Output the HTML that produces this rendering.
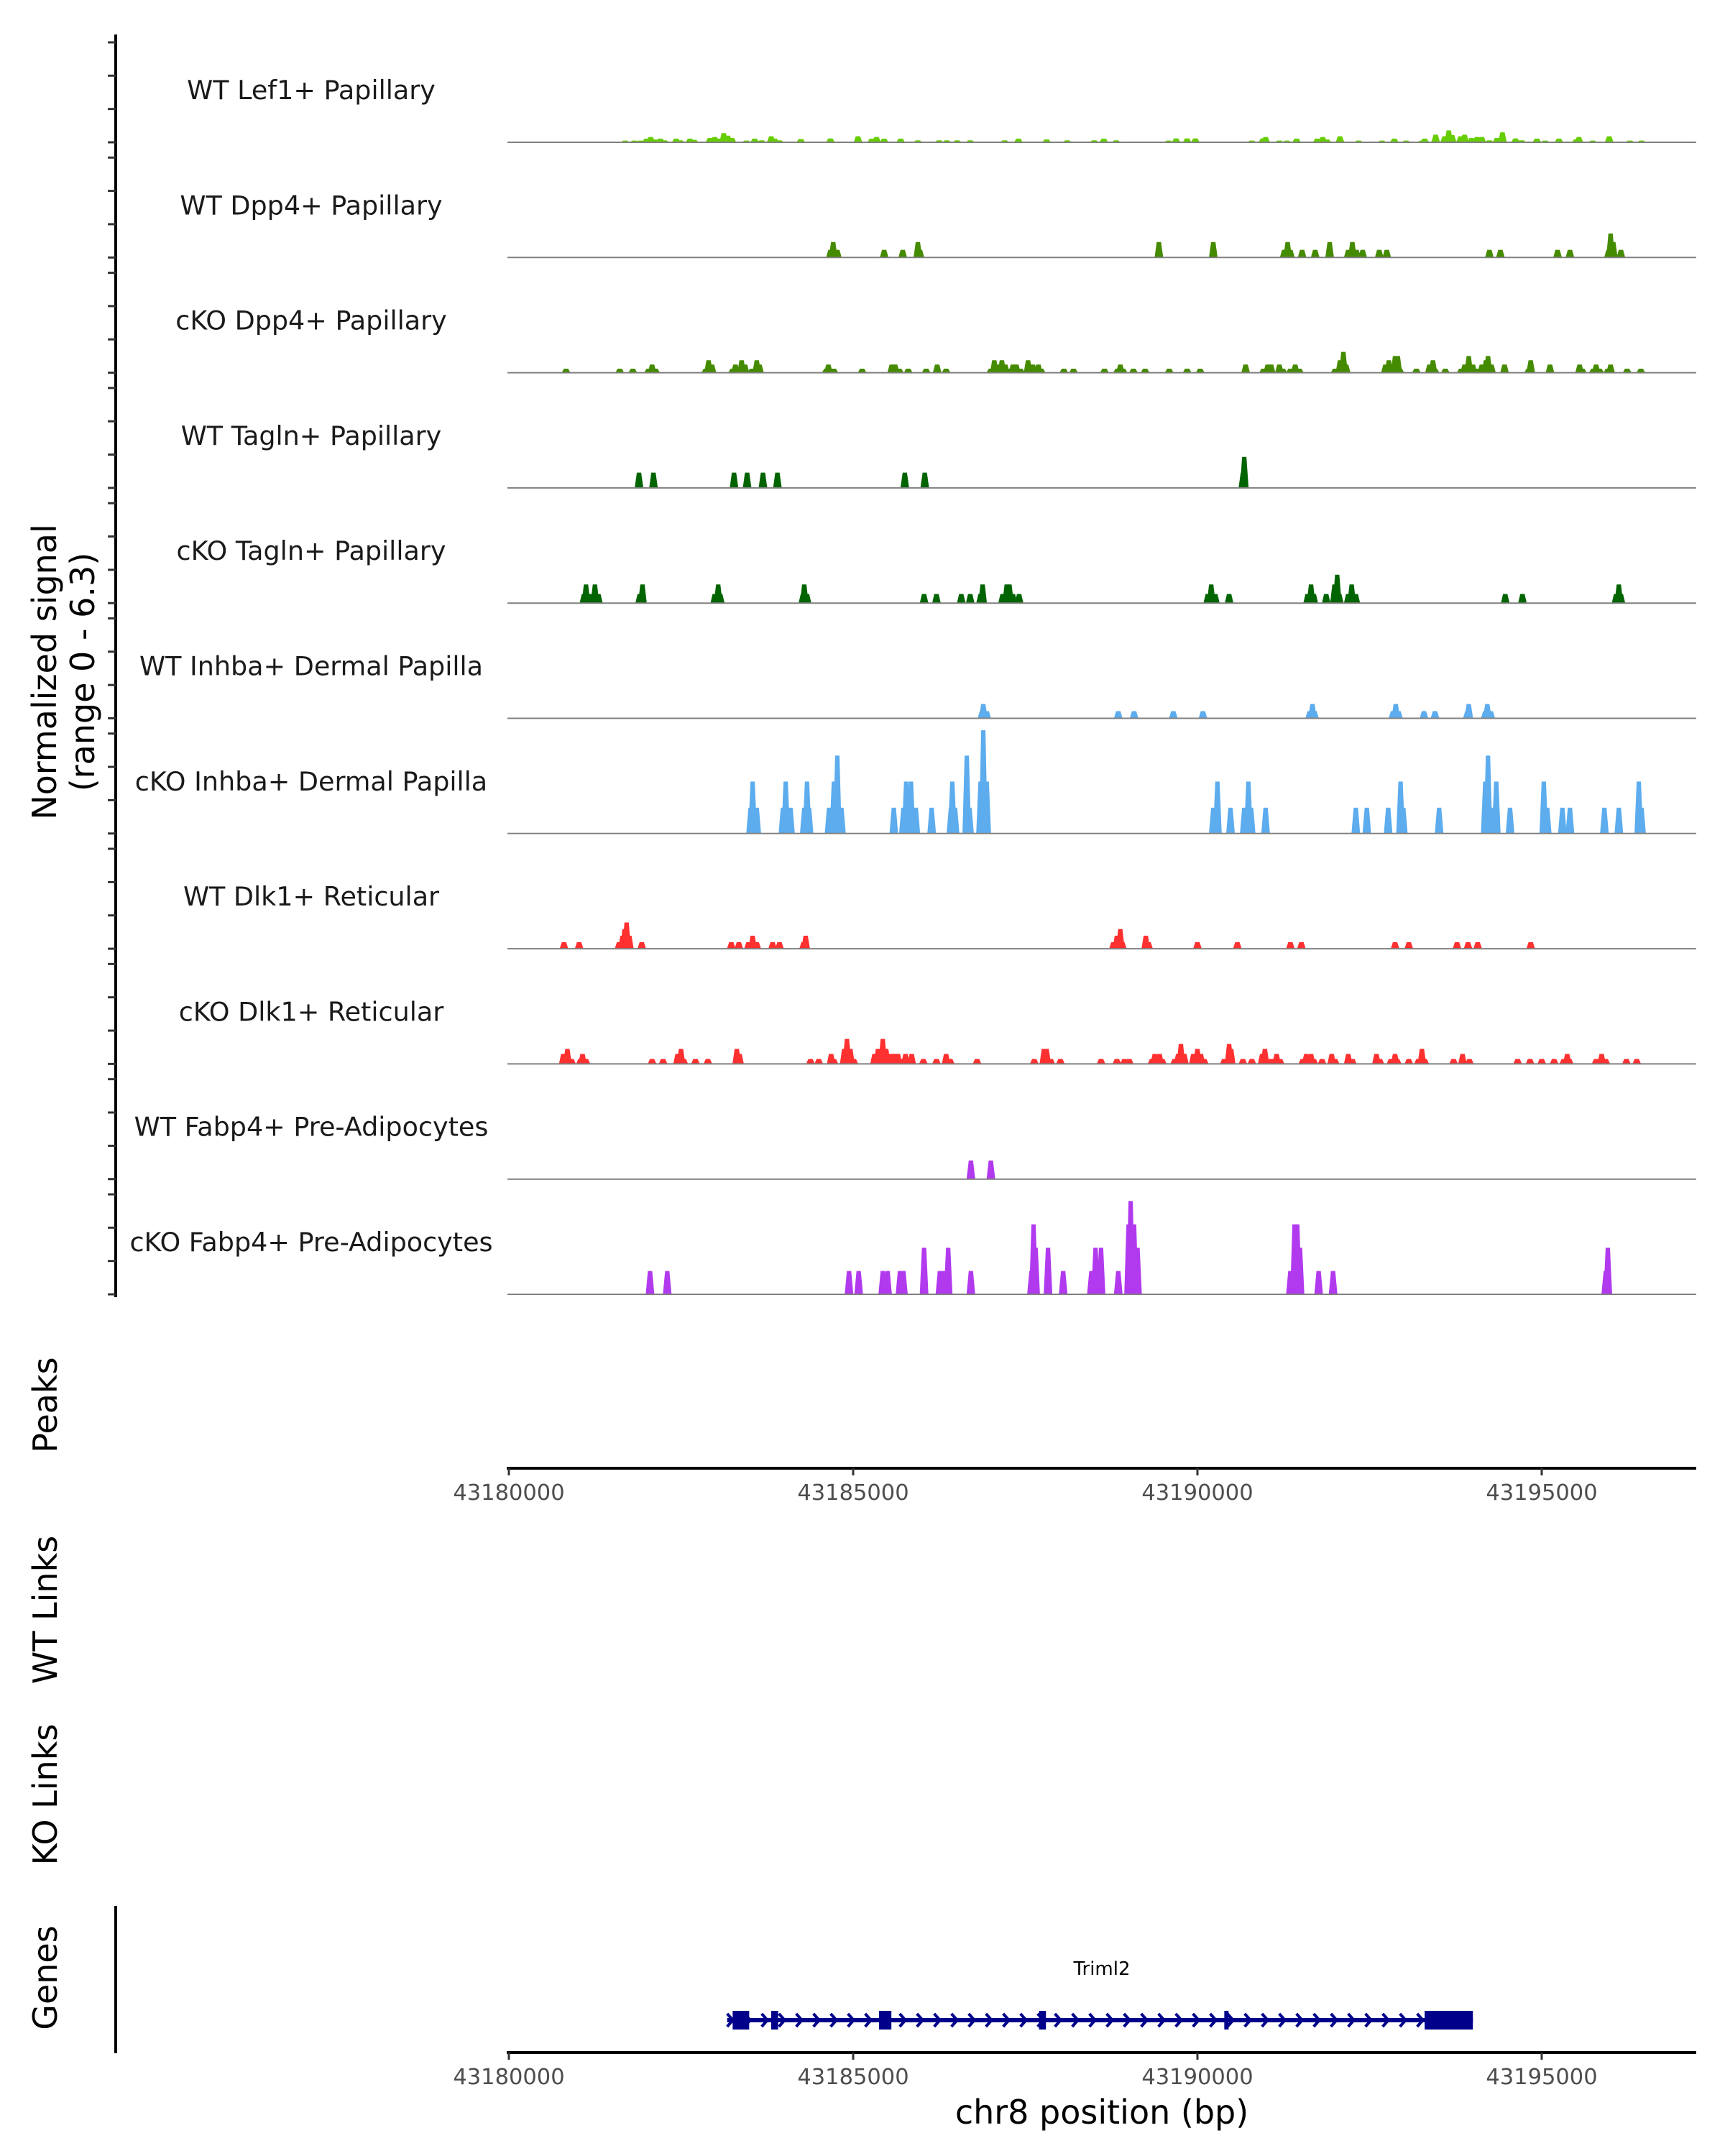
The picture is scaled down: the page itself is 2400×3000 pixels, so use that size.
<!DOCTYPE html>
<html><head><meta charset="utf-8"><title>Coverage plot chr8 Triml2</title>
<style>
html,body{margin:0;padding:0;background:#fff;}
svg{display:block;}
text{font-family:"DejaVu Sans","Liberation Sans",sans-serif;}
</style></head>
<body>
<svg id="chart" width="2400" height="3000" viewBox="0 0 2400 3000" xmlns="http://www.w3.org/2000/svg">
  <rect x="0" y="0" width="2400" height="3000" fill="#fff"/>
  <g id="tracks"></g>
  <g id="leftaxis"></g>
  <text transform="translate(78,935) rotate(-90)" text-anchor="middle" font-size="46" fill="#000">Normalized signal</text>
  <text transform="translate(131,935) rotate(-90)" text-anchor="middle" font-size="46" fill="#000">(range 0 - 6.3)</text>
  <text transform="translate(79,1955) rotate(-90)" text-anchor="middle" font-size="46" fill="#000">Peaks</text>
  <text transform="translate(79,2240) rotate(-90)" text-anchor="middle" font-size="46" fill="#000">WT Links</text>
  <text transform="translate(79,2497) rotate(-90)" text-anchor="middle" font-size="46" fill="#000">KO Links</text>
  <text transform="translate(79,2752) rotate(-90)" text-anchor="middle" font-size="46" fill="#000">Genes</text>
  <line x1="161" y1="2652" x2="161" y2="2857" stroke="#000" stroke-width="4"/>
  <g id="xaxis1"></g>
  <g id="xaxis2"></g>
  <g id="gene"></g>
  <text x="1533" y="2955" text-anchor="middle" font-size="46" fill="#000">chr8 position (bp)</text>
</svg>
<script>
// ---------- data ----------
const xTicks = [43180000, 43185000, 43190000, 43195000];
const trackNames = ["WT Lef1+ Papillary","WT Dpp4+ Papillary","cKO Dpp4+ Papillary","WT Tagln+ Papillary","cKO Tagln+ Papillary","WT Inhba+ Dermal Papilla","cKO Inhba+ Dermal Papilla","WT Dlk1+ Reticular","cKO Dlk1+ Reticular","WT Fabp4+ Pre-Adipocytes","cKO Fabp4+ Pre-Adipocytes"];
const trackColors = ["#66CD00","#458B00","#458B00","#006400","#006400","#5CACEE","#5CACEE","#FF3030","#FF3030","#B23AEE","#B23AEE"];
const yTickValues = [0,2,4,6];

const lef1WtPos = [43181.69,43181.82,43181.91,43182.00,43182.06,43182.12,43182.20,43182.26,43182.43,43182.49,43182.63,43182.69,43182.92,43182.99,43183.06,43183.12,43183.18,43183.24,43183.45,43183.57,43183.67,43183.81,43183.86,43183.93,43184.24,43184.67,43185.07,43185.27,43185.34,43185.45,43185.69,43185.94,43186.25,43186.36,43186.51,43186.70,43187.20,43187.40,43187.81,43188.11,43188.50,43188.64,43188.82,43189.58,43189.69,43189.85,43189.97,43190.79,43190.95,43190.99,43191.19,43191.30,43191.44,43191.74,43191.82,43191.88,43192.07,43192.34,43192.68,43192.86,43193.03,43193.26,43193.30,43193.46,43193.59,43193.65,43193.70,43193.82,43193.88,43193.98,43194.06,43194.13,43194.24,43194.35,43194.43,43194.62,43194.71,43194.93,43195.05,43195.25,43195.50,43195.54,43195.74,43195.98,43196.28,43196.45];
const lef1WtVal = [0.1,0.1,0.1,0.22,0.32,0.17,0.22,0.12,0.22,0.12,0.22,0.15,0.26,0.32,0.22,0.55,0.4,0.26,0.1,0.22,0.12,0.36,0.22,0.12,0.2,0.23,0.36,0.22,0.32,0.22,0.22,0.12,0.12,0.12,0.12,0.12,0.12,0.22,0.17,0.12,0.12,0.22,0.12,0.1,0.23,0.23,0.23,0.1,0.23,0.32,0.1,0.1,0.22,0.22,0.32,0.17,0.36,0.1,0.1,0.22,0.1,0.1,0.22,0.46,0.36,0.72,0.43,0.36,0.46,0.26,0.32,0.32,0.12,0.26,0.6,0.23,0.12,0.22,0.1,0.22,0.17,0.32,0.1,0.36,0.1,0.1];

const dpp4WtPos = [43184.67,43184.71,43184.77,43185.45,43185.72,43185.94,43185.97,43189.44,43190.23,43191.26,43191.31,43191.35,43191.52,43191.71,43191.92,43192.19,43192.25,43192.31,43192.40,43192.64,43192.75,43194.24,43194.40,43195.23,43195.41,43195.97,43196.00,43196.04,43196.15];
const dpp4WtVal = [0.46,0.93,0.46,0.46,0.46,0.93,0.46,0.93,0.93,0.46,0.93,0.46,0.46,0.46,0.93,0.46,0.93,0.46,0.46,0.46,0.46,0.46,0.46,0.46,0.46,0.46,1.44,0.93,0.46];

const dpp4KoPos = [43180.83,43181.61,43181.80,43182.03,43182.08,43182.13,43182.86,43182.90,43182.95,43183.25,43183.29,43183.34,43183.38,43183.43,43183.53,43183.60,43183.64,43184.61,43184.64,43184.72,43185.13,43185.56,43185.61,43185.67,43185.80,43186.06,43186.22,43186.35,43187.00,43187.05,43187.11,43187.16,43187.21,43187.26,43187.32,43187.37,43187.43,43187.54,43187.61,43187.69,43187.73,43188.06,43188.20,43188.65,43188.84,43188.88,43188.92,43189.07,43189.24,43189.59,43189.85,43190.04,43190.70,43190.96,43191.02,43191.07,43191.19,43191.24,43191.35,43191.42,43191.48,43192.00,43192.07,43192.12,43192.16,43192.73,43192.78,43192.83,43192.87,43192.91,43192.94,43193.18,43193.37,43193.42,43193.45,43193.60,43193.83,43193.88,43193.94,43194.00,43194.07,43194.13,43194.19,43194.22,43194.27,43194.46,43194.81,43194.84,43195.12,43195.55,43195.59,43195.75,43195.79,43195.84,43195.96,43196.00,43196.24,43196.44];
const dpp4KoVal = [0.24,0.24,0.24,0.24,0.49,0.24,0.24,0.75,0.49,0.24,0.49,0.24,0.75,0.49,0.24,0.75,0.49,0.24,0.49,0.24,0.24,0.49,0.49,0.24,0.24,0.24,0.49,0.24,0.24,0.75,0.49,0.75,0.49,0.24,0.49,0.49,0.24,0.75,0.49,0.49,0.24,0.24,0.24,0.24,0.24,0.49,0.24,0.24,0.24,0.24,0.24,0.24,0.49,0.24,0.49,0.49,0.49,0.24,0.24,0.49,0.24,0.24,0.75,1.25,0.49,0.49,0.75,0.24,1.0,1.0,0.24,0.24,0.49,0.75,0.24,0.24,0.24,0.49,1.0,0.49,0.24,0.49,0.75,1.0,0.49,0.49,0.24,0.75,0.49,0.49,0.24,0.24,0.49,0.24,0.24,0.49,0.24,0.24];

const taglnWtPos = [43181.89,43182.10,43183.27,43183.46,43183.69,43183.90,43185.75,43186.04,43190.66,43190.68];
const taglnWtVal = [0.92,0.92,0.92,0.92,0.92,0.92,0.92,0.92,0.92,1.86];

const taglnKoPos = [43181.09,43181.12,43181.19,43181.25,43181.30,43181.90,43181.94,43182.99,43183.04,43183.07,43184.27,43184.29,43184.33,43186.03,43186.21,43186.57,43186.70,43186.85,43186.88,43187.17,43187.23,43187.27,43187.32,43187.41,43190.15,43190.20,43190.26,43190.46,43191.60,43191.65,43191.69,43191.87,43191.99,43192.03,43192.06,43192.19,43192.24,43192.30,43194.47,43194.72,43196.08,43196.12,43196.15];
const taglnKoVal = [0.55,1.12,0.55,1.12,0.55,0.55,1.12,0.55,1.12,0.55,0.55,1.12,0.55,0.55,0.55,0.55,0.55,0.55,1.12,0.55,1.12,1.12,0.55,0.55,0.55,1.12,0.55,0.55,0.55,1.12,0.55,0.55,1.12,1.7,0.55,0.55,1.12,0.55,0.55,0.55,0.55,1.12,0.55];

const inhbaWtPos = [43186.87,43186.89,43186.94,43188.85,43189.08,43189.65,43190.08,43191.63,43191.67,43191.70,43192.84,43192.88,43192.92,43193.29,43193.45,43193.92,43193.94,43194.18,43194.21,43194.26];
const inhbaWtVal = [0.43,0.86,0.43,0.43,0.43,0.43,0.43,0.43,0.86,0.43,0.43,0.86,0.43,0.43,0.43,0.43,0.86,0.43,0.86,0.43];

const inhbaKoPos = [43183.51,43183.54,43183.60,43183.98,43184.02,43184.09,43184.29,43184.33,43184.36,43184.65,43184.72,43184.77,43184.83,43185.59,43185.73,43185.77,43185.84,43185.91,43186.14,43186.42,43186.44,43186.48,43186.65,43186.69,43186.85,43186.89,43186.94,43190.23,43190.29,43190.48,43190.68,43190.74,43190.78,43190.99,43192.30,43192.46,43192.77,43192.95,43192.99,43193.51,43194.18,43194.22,43194.27,43194.34,43194.54,43195.03,43195.08,43195.30,43195.41,43195.91,43196.12,43196.41,43196.45];
const inhbaKoVal = [1.55,3.12,1.55,1.55,3.12,1.55,1.55,3.12,1.55,1.55,3.12,4.68,1.55,1.55,1.55,3.12,3.12,1.55,1.55,1.55,3.12,1.55,4.68,1.55,3.12,6.2,3.12,1.55,3.12,1.55,1.55,3.12,1.55,1.55,1.55,1.55,1.55,3.12,1.55,1.55,3.12,4.68,1.55,3.12,1.55,3.12,1.55,1.55,1.55,1.55,1.55,3.12,1.55];

const dlk1WtPos = [43180.80,43181.02,43181.60,43181.65,43181.68,43181.71,43181.75,43181.93,43183.23,43183.34,43183.48,43183.54,43183.60,43183.83,43183.93,43184.28,43184.31,43188.78,43188.83,43188.88,43188.91,43189.25,43189.29,43190.00,43190.58,43191.35,43191.51,43192.87,43193.07,43193.77,43193.93,43194.07,43194.84];
const dlk1WtVal = [0.39,0.39,0.39,0.78,1.18,1.58,0.78,0.39,0.39,0.39,0.39,0.78,0.39,0.39,0.39,0.39,0.78,0.39,0.78,1.18,0.39,0.78,0.39,0.39,0.39,0.39,0.39,0.39,0.39,0.39,0.39,0.39,0.39];

const dlk1KoPos = [43180.79,43180.85,43180.91,43181.04,43181.07,43181.12,43182.08,43182.24,43182.45,43182.50,43182.54,43182.71,43182.89,43183.31,43183.35,43184.38,43184.50,43184.68,43184.72,43184.87,43184.91,43184.96,43185.01,43185.31,43185.36,43185.40,43185.43,43185.48,43185.54,43185.59,43185.65,43185.70,43185.76,43185.80,43185.85,43186.02,43186.21,43186.35,43186.41,43186.80,43187.63,43187.77,43187.81,43187.87,43188.01,43188.60,43188.83,43188.94,43189.01,43189.34,43189.38,43189.45,43189.49,43189.67,43189.72,43189.76,43189.81,43189.94,43190.00,43190.05,43190.10,43190.39,43190.46,43190.49,43190.66,43190.79,43190.94,43190.98,43191.03,43191.08,43191.15,43191.20,43191.53,43191.58,43191.65,43191.69,43191.81,43191.95,43192.00,43192.19,43192.25,43192.60,43192.65,43192.81,43192.87,43192.90,43193.07,43193.21,43193.26,43193.30,43193.72,43193.85,43193.95,43194.65,43194.83,43195.00,43195.18,43195.32,43195.37,43195.40,43195.79,43195.87,43195.93,43196.23,43196.38];
const dlk1KoVal = [0.6,0.9,0.3,0.3,0.6,0.3,0.3,0.3,0.6,0.9,0.3,0.3,0.3,0.9,0.6,0.3,0.3,0.6,0.3,0.9,1.5,0.9,0.3,0.6,0.9,0.3,1.5,0.9,0.6,0.6,0.6,0.3,0.6,0.3,0.6,0.3,0.3,0.6,0.3,0.3,0.3,0.9,0.9,0.3,0.3,0.3,0.3,0.3,0.3,0.3,0.6,0.6,0.3,0.3,0.6,1.2,0.6,0.6,0.9,0.6,0.3,0.3,1.2,0.9,0.3,0.3,0.6,0.9,0.3,0.3,0.6,0.3,0.3,0.6,0.6,0.3,0.3,0.6,0.3,0.6,0.3,0.6,0.3,0.3,0.6,0.3,0.3,0.3,0.9,0.3,0.3,0.6,0.3,0.3,0.3,0.3,0.3,0.3,0.6,0.3,0.3,0.6,0.3,0.3,0.3];

const fabp4WtPos = [43186.71,43187.00];
const fabp4WtVal = [1.12,1.12];

const fabp4KoPos = [43182.05,43182.30,43184.94,43185.08,43185.43,43185.50,43185.68,43185.73,43186.03,43186.26,43186.31,43186.38,43186.71,43187.59,43187.62,43187.65,43187.83,43188.05,43188.46,43188.52,43188.55,43188.60,43188.85,43189.00,43189.03,43189.08,43189.13,43191.35,43191.41,43191.45,43191.49,43191.76,43191.97,43195.93,43195.96];
const fabp4KoVal = [1.4,1.4,1.4,1.4,1.4,1.4,1.4,1.4,2.8,1.4,1.4,2.8,1.4,1.4,4.2,2.8,2.8,1.4,1.4,2.8,1.4,2.8,1.4,4.2,5.6,4.2,2.8,1.4,4.2,4.2,2.8,1.4,1.4,1.4,2.8];

const trackPos = [lef1WtPos,dpp4WtPos,dpp4KoPos,taglnWtPos,taglnKoPos,inhbaWtPos,inhbaKoPos,dlk1WtPos,dlk1KoPos,fabp4WtPos,fabp4KoPos];
const trackVal = [lef1WtVal,dpp4WtVal,dpp4KoVal,taglnWtVal,taglnKoVal,inhbaWtVal,inhbaKoVal,dlk1WtVal,dlk1KoVal,fabp4WtVal,fabp4KoVal];

const geneName = "Triml2";
const geneStart = 43183170, geneEnd = 43194000;
const exonStarts = [43183250,43183810,43185375,43187700,43190390,43193300];
const exonEnds   = [43183490,43183910,43185555,43187800,43190450,43194000];

// ---------- scales ----------
const NS = "http://www.w3.org/2000/svg";
const X0 = 708, PX_PER_BP = 479/5000, XMIN = 43180000, PLOT_R = 2360;
const xScale = bp => X0 + (bp - XMIN) * PX_PER_BP;
const TRACK_TOP0 = 198, TRACK_STEP = 160.3, TRACK_H = 146, YMAX = 6.3;
const baseY = i => TRACK_TOP0 + i * TRACK_STEP;
const yScale = (i, v) => baseY(i) - v / YMAX * TRACK_H;
function mk(tag, attrs, parent) { const e = document.createElementNS(NS, tag); for (const k in attrs) e.setAttribute(k, attrs[k]); parent.appendChild(e); return e; }

// ---------- tracks ----------
const tracksG = document.getElementById('tracks');
const axisG = document.getElementById('leftaxis');
const axLine = mk('line', {x1:161, y1:48, x2:161, y2:1805, stroke:'#000', 'stroke-width':4}, axisG);


trackNames.forEach((name, i) => {
  const g = mk('g', {}, tracksG);
  
  
  const lbl = mk('text', {x:433, y:baseY(i) - 60, 'text-anchor':'middle', 'font-size':36.5, fill:'#1a1a1a'}, g);
  lbl.textContent = name;
  
  
  const pos = trackPos[i], val = trackVal[i];
  pos.forEach((kb, j) => {
    const cx = xScale(kb * 1000), by = baseY(i), ty = yScale(i, val[j]);
    const p = mk('polygon', {points: `${cx-6},${by} ${cx-3},${ty} ${cx+3},${ty} ${cx+6},${by}`, fill: trackColors[i]}, g);
    
    
  });
  const bl = mk('line', {x1:X0 - 2, y1:baseY(i), x2:PLOT_R, y2:baseY(i), stroke:'#808080', 'stroke-width':2}, g);
  
  
  yTickValues.forEach(v => {
    const t = mk('line', {x1:150, y1:yScale(i, v), x2:161, y2:yScale(i, v), stroke:'#333', 'stroke-width':3}, axisG);
    
    
  });
});

// ---------- x axes ----------
function xAxis(gid, y) {
  const g = document.getElementById(gid);
  const l = mk('line', {x1:X0 - 3, y1:y, x2:PLOT_R, y2:y, stroke:'#000', 'stroke-width':4}, g);
  
  
  xTicks.forEach(t => {
    const tk = mk('line', {x1:xScale(t), y1:y, x2:xScale(t), y2:y + 10, stroke:'#333', 'stroke-width':3}, g);
    
    
    const tl = mk('text', {x:xScale(t), y:y + 44, 'text-anchor':'middle', 'font-size':30.5, fill:'#4d4d4d'}, g);
    tl.textContent = t;
    
    
  });
}
xAxis('xaxis1', 2043);
xAxis('xaxis2', 2856);

// ---------- gene ----------
const gg = document.getElementById('gene');
const GY = 2811;
const gl = mk('line', {x1:xScale(geneStart), y1:GY, x2:xScale(geneEnd), y2:GY, stroke:'#00008B', 'stroke-width':6}, gg);


for (let x = xScale(geneStart) + 4; x < xScale(geneEnd) - 10; x += 24) {
  const c = mk('polyline', {points: `${x-4},${GY-9} ${x+4},${GY} ${x-4},${GY+9}`, fill:'none', stroke:'#00008B', 'stroke-width':4}, gg);
  
  
}
exonStarts.forEach((s, k) => {
  const r = mk('rect', {x:xScale(s), y:GY - 13, width:Math.max(6, xScale(exonEnds[k]) - xScale(s)), height:26, fill:'#00008B'}, gg);
  
  
});
const gt = mk('text', {x:1533, y:2748, 'text-anchor':'middle', 'font-size':26, fill:'#000'}, gg);
gt.textContent = geneName;


</script>
</body></html>
